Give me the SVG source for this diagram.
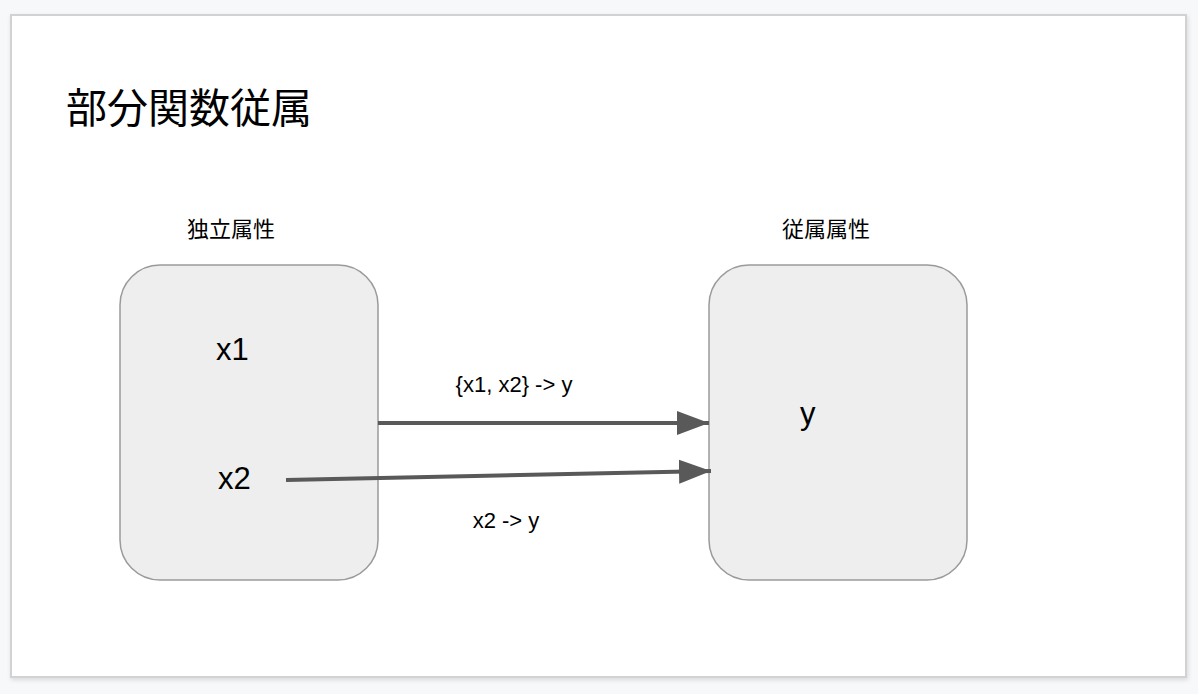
<svg xmlns="http://www.w3.org/2000/svg" width="1198" height="694" viewBox="0 0 1198 694">
<style>
.node{fill:#eeeeee;stroke:#9a9a9a;stroke-width:1.5}
.t{font-family:"Liberation Sans","Noto Sans CJK JP",sans-serif;fill:#000}
.jp{font-family:"Noto Sans CJK JP","Liberation Sans",sans-serif;fill:#000}
.edge{stroke:#595959;stroke-width:4;fill:none}
</style>
<defs>
<marker id="arr" markerUnits="userSpaceOnUse" markerWidth="34" markerHeight="26" refX="32" refY="13" orient="auto">
<path d="M0,1 L32,13 L0,25 Z" fill="#595959"/>
</marker>
<filter id="sh" x="-5%" y="-5%" width="110%" height="110%">
<feDropShadow dx="1" dy="2" stdDeviation="2" flood-color="#000" flood-opacity="0.12"/>
</filter>
</defs>
<rect width="1198" height="694" fill="#f7f8fa"/>
<rect x="11" y="15" width="1175" height="662" fill="#ffffff" stroke="#d2d2d2" stroke-width="2" filter="url(#sh)"/>
<text class="jp" x="66" y="123" font-size="41">部分関数従属</text>
<g id="independent">
<rect class="node" x="120" y="265" width="258" height="315" rx="40" ry="40"/>
<text class="jp" x="231" y="237" font-size="22" text-anchor="middle">独立属性</text>
<text class="t" x="216" y="360" font-size="31">x1</text>
<text class="t" x="218" y="489" font-size="31">x2</text>
</g>
<g id="dependent">
<rect class="node" x="709" y="265" width="258" height="315" rx="40" ry="40"/>
<text class="jp" x="826" y="237" font-size="22" text-anchor="middle">従属属性</text>
<text class="t" x="800" y="424" font-size="31">y</text>
</g>
<g id="connectors">
<line class="edge" x1="378" y1="423" x2="709" y2="423" marker-end="url(#arr)"/>
<line class="edge" x1="286" y1="480" x2="711" y2="471" marker-end="url(#arr)"/>
<text class="t" x="514" y="392" font-size="22" text-anchor="middle">{x1, x2} -&gt; y</text>
<text class="t" x="506" y="528" font-size="22" text-anchor="middle">x2 -&gt; y</text>
</g>
</svg>
